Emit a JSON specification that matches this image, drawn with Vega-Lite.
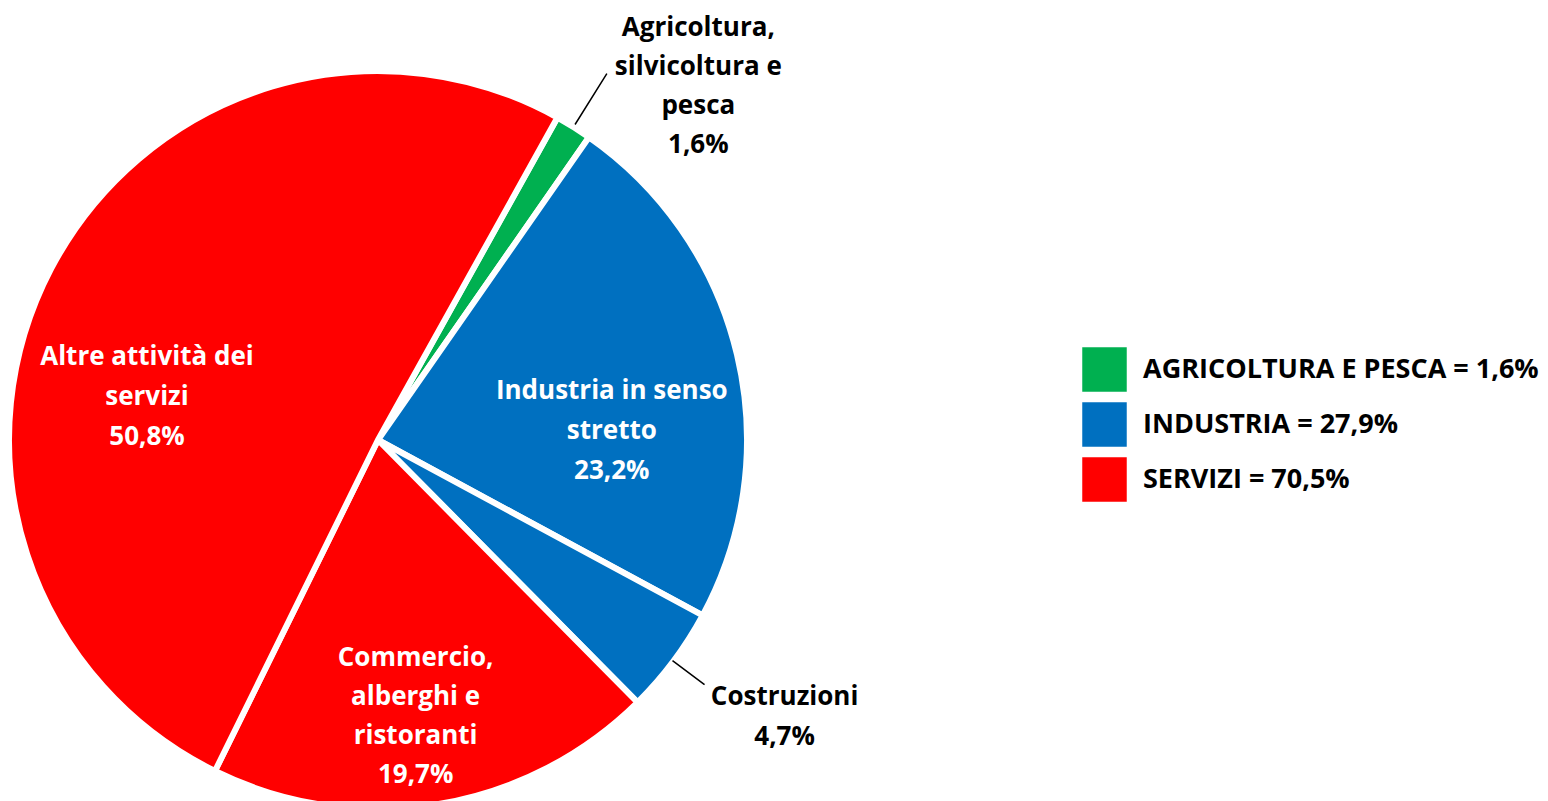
{
  "$schema": "https://vega.github.io/schema/vega-lite/v6.json",
  "autosize": {"type": "none"},
  "width": 756,
  "height": 720,
  "padding": {"left": 0, "top": 80, "right": 792, "bottom": 1},
  "background": "white",
  "config": {"view": {"stroke": null}, "font": "Open Sans"},
  "data": {"values": [
    {"name": "Agricoltura", "order": 1, "value": 1.6, "sector": "AGRICOLTURA E PESCA = 1,6%", "label": "Agricoltura,\nsilvicoltura e\npesca\n1,6%"},
    {"name": "Industria", "order": 2, "value": 23.2, "sector": "INDUSTRIA = 27,9%", "label": "Industria in senso\nstretto\n23,2%"},
    {"name": "Costruzioni", "order": 3, "value": 4.7, "sector": "INDUSTRIA = 27,9%", "label": "Costruzioni\n4,7%"},
    {"name": "Commercio", "order": 4, "value": 19.7, "sector": "SERVIZI = 70,5%", "label": "Commercio,\nalberghi e\nristoranti\n19,7%"},
    {"name": "Altre", "order": 5, "value": 50.8, "sector": "SERVIZI = 70,5%", "label": "Altre attività dei\nservizi\n50,8%"}
  ]},
  "encoding": {
    "theta": {"field": "value", "type": "quantitative", "stack": true, "scale": {"range": [0.508, 6.791]}},
    "order": {"field": "order", "type": "quantitative"}
  },
  "layer": [
    {
      "mark": {"type": "arc", "outerRadius": 369, "stroke": "white", "strokeWidth": 6},
      "encoding": {
        "color": {
          "field": "sector", "type": "nominal",
          "scale": {"domain": ["AGRICOLTURA E PESCA = 1,6%", "INDUSTRIA = 27,9%", "SERVIZI = 70,5%"], "range": ["#00B050", "#0070C0", "#FF0000"]},
          "legend": {
            "title": null, "orient": "none", "legendX": 1082, "legendY": 267,
            "symbolType": "square", "symbolSize": 1980, "symbolStrokeWidth": 0,
            "labelFont": "Open Sans", "labelFontSize": 27, "labelFontWeight": "bold", "labelColor": "black",
            "labelOffset": 16, "rowPadding": 10, "padding": 0, "labelLimit": 600
          }
        }
      }
    },
    {
      "mark": {"type": "arc", "outerRadius": 432, "innerRadius": 372, "padAngle": 1.5, "fill": null, "stroke": "black", "strokeWidth": 1.5},
      "encoding": {"strokeOpacity": {"condition": {"test": "datum.name === 'Agricoltura'", "value": 1}, "value": 0}}
    },
    {
      "mark": {"type": "arc", "outerRadius": 408, "innerRadius": 368, "padAngle": 1.5, "fill": null, "stroke": "black", "strokeWidth": 1.5},
      "encoding": {"strokeOpacity": {"condition": {"test": "datum.name === 'Costruzioni'", "value": 1}, "value": 0}}
    },
    {
      "mark": {"type": "text", "radius": 235, "thetaOffset": -0.298, "dy": -40, "lineBreak": "\n", "lineHeight": 40, "fontSize": 26, "fontWeight": "bold", "fill": "white", "align": "center", "baseline": "middle"},
      "encoding": {"text": {"condition": {"test": "datum.name === 'Altre'", "field": "label"}, "value": ""}}
    },
    {
      "mark": {"type": "text", "radius": 234, "thetaOffset": 0.193, "dy": -40, "lineBreak": "\n", "lineHeight": 40, "fontSize": 26, "fontWeight": "bold", "fill": "white", "align": "center", "baseline": "middle"},
      "encoding": {"text": {"condition": {"test": "datum.name === 'Industria'", "field": "label"}, "value": ""}}
    },
    {
      "mark": {"type": "text", "radius": 279, "thetaOffset": 0.026, "dy": -58, "lineBreak": "\n", "lineHeight": 39, "fontSize": 26, "fontWeight": "bold", "fill": "white", "align": "center", "baseline": "middle"},
      "encoding": {"text": {"condition": {"test": "datum.name === 'Commercio'", "field": "label"}, "value": ""}}
    },
    {
      "mark": {"type": "text", "radius": 477, "thetaOffset": 0.178, "dy": -59, "lineBreak": "\n", "lineHeight": 39, "fontSize": 26, "fontWeight": "bold", "fill": "black", "align": "center", "baseline": "middle"},
      "encoding": {"text": {"condition": {"test": "datum.name === 'Agricoltura'", "field": "label"}, "value": ""}}
    },
    {
      "mark": {"type": "text", "radius": 492, "thetaOffset": -0.045, "dy": -20, "lineBreak": "\n", "lineHeight": 40, "fontSize": 26, "fontWeight": "bold", "fill": "black", "align": "center", "baseline": "middle"},
      "encoding": {"text": {"condition": {"test": "datum.name === 'Costruzioni'", "field": "label"}, "value": ""}}
    }
  ]
}
